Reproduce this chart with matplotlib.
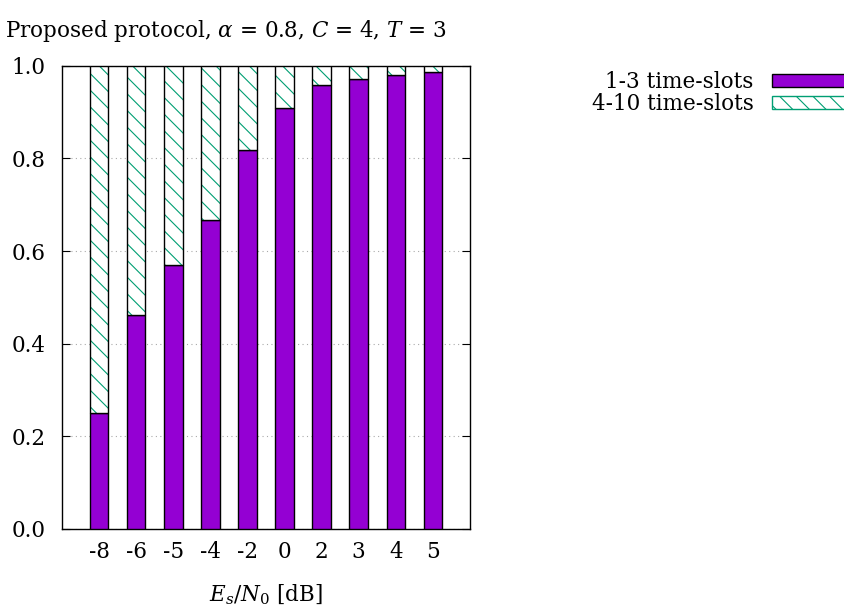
import numpy as np
import matplotlib
matplotlib.use("Agg")
import matplotlib.pyplot as plt
from matplotlib.patches import Patch

# SNR values (categories) and fraction completed within 1-3 time-slots
snr_labels = ["-8", "-6", "-5", "-4", "-2", "0", "2", "3", "4", "5"]
frac_1_3 = [0.25, 0.462, 0.570, 0.668, 0.818, 0.909, 0.958, 0.971, 0.981, 0.987]
frac_4_10 = [1.0 - v for v in frac_1_3]

PURPLE = "#9400D3"
GREEN = "#009E73"
FS = 15.5

plt.rcParams['font.family'] = ['DejaVu Serif']
plt.rcParams['mathtext.fontset'] = 'dejavuserif'
plt.rcParams['hatch.linewidth'] = 0.8

fig = plt.figure(figsize=(8.45, 6.15), dpi=100)
ax = fig.add_axes([0.0734, 0.140, 0.4828, 0.753])

x = np.arange(len(snr_labels))
w = 0.5

# lower part: 1-3 time-slots
ax.bar(x, frac_1_3, width=w, color=PURPLE, edgecolor="black", linewidth=1.0, zorder=3)
# upper part: 4-10 time-slots, hatch drawn in green then outlined in black
ax.bar(x, frac_4_10, width=w, bottom=frac_1_3, color="white", edgecolor=GREEN,
       hatch="\\\\", linewidth=0, zorder=3)
ax.bar(x, frac_4_10, width=w, bottom=frac_1_3, fill=False, edgecolor="black",
       linewidth=1.0, zorder=4)

ax.set_xlim(-1, 10)
ax.set_ylim(0, 1.0)
ax.set_xticks(x)
ax.set_xticklabels(snr_labels)
ax.set_yticks([0.0, 0.2, 0.4, 0.6, 0.8, 1.0])
ax.set_yticklabels(["0.0", "0.2", "0.4", "0.6", "0.8", "1.0"])
ax.tick_params(axis="x", length=0, pad=9, labelsize=FS)
ax.tick_params(axis="y", direction="in", right=True, length=6, pad=12, labelsize=FS)
ax.yaxis.grid(True, linestyle=(0, (1, 3)), color="#aaaaaa", linewidth=0.8, zorder=0)
for s in ax.spines.values():
    s.set_linewidth(1.0)

ax.set_xlabel("$E_s/N_0$ [dB]", fontsize=FS, labelpad=14)
fig.text(0.006, 0.928, r"Proposed protocol, $\alpha$ = 0.8, $C$ = 4, $T$ = 3",
         fontsize=FS, ha="left", va="bottom")

handles = [Patch(facecolor=PURPLE, edgecolor="black", linewidth=1.0),
           Patch(facecolor="white", edgecolor=GREEN, hatch="\\\\", linewidth=1.0)]
fig.legend(handles, ["1-3 time-slots", "4-10 time-slots"], loc="upper right",
           bbox_to_anchor=(1.0, 0.885), frameon=False, markerfirst=False,
           fontsize=FS, handlelength=3.4, handleheight=0.55, labelspacing=0.0,
           borderaxespad=0.0, borderpad=0.0, handletextpad=0.85)

fig.savefig("out.png", dpi=100)
